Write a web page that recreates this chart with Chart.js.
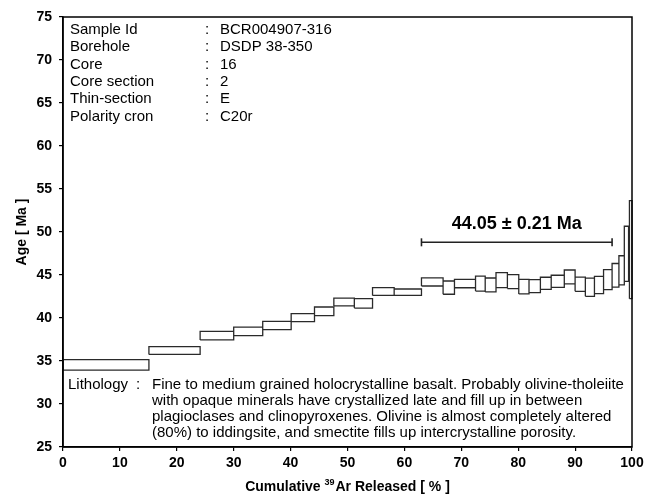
<!DOCTYPE html>
<html>
<head>
<meta charset="utf-8">
<script src="https://cdn.jsdelivr.net/npm/chart.js@4.4.1/dist/chart.umd.min.js"></script>
<style>
  html, body { margin: 0; padding: 0; background: #fff; }
  #wrap { width: 655px; height: 496px; }
</style>
</head>
<body>
<div id="wrap"><canvas id="ageSpectrum"></canvas></div>
<script>
// step edges, cumulative 39Ar released (%)
const cumulative = [0, 15.1, 24.1, 30.0, 35.1, 40.1, 44.2, 47.6, 51.2, 54.4, 58.2,
  63.0, 66.8, 68.8, 72.5, 74.2, 76.1, 78.1, 80.1, 81.9, 83.9, 85.8, 88.1, 90.0,
  91.8, 93.4, 95.0, 96.5, 97.7, 98.65, 99.4, 99.55, 100]
// apparent age of each step (Ma) and its error (Ma)
const stepAge = [34.55, 36.22, 37.95, 38.45, 39.13, 40.05, 40.78, 41.85, 41.7, 43.08,
  43.0, 44.19, 43.53, 44.0, 44.0, 43.84, 44.4, 44.23, 43.65, 43.71, 44.04, 44.27,
  44.77, 43.93, 43.58, 43.84, 44.46, 44.97, 45.55, 47.47, 47.42, 47.95]
const stepErr = [0.62, 0.45, 0.5, 0.5, 0.48, 0.46, 0.5, 0.45, 0.55, 0.45,
  0.37, 0.47, 0.77, 0.48, 0.87, 0.81, 0.87, 0.81, 0.85, 0.76, 0.7, 0.7,
  0.81, 0.83, 1.06, 1.0, 1.16, 1.37, 1.69, 3.2, 1.42, 5.7]

const plateauRange = [63.0, 96.5]
const plateauBarAge = 48.8
const plateauLabel = '44.05 ± 0.21 Ma'

const xTicks = [0, 10, 20, 30, 40, 50, 60, 70, 80, 90, 100]
const yTicks = [25, 30, 35, 40, 45, 50, 55, 60, 65, 70, 75]

const infoKeys = ['Sample Id', 'Borehole', 'Core', 'Core section', 'Thin-section', 'Polarity cron']
const infoValues = ['BCR004907-316', 'DSDP 38-350', '16', '2', 'E', 'C20r']
const lithologyLines = [
  'Fine to medium grained holocrystalline basalt. Probably olivine-tholeiite',
  'with opaque minerals have crystallized late and fill up in between',
  'plagioclases and clinopyroxenes. Olivine is almost completely altered',
  '(80%) to iddingsite, and smectite fills up intercrystalline porosity.'
]

const FONT = '"Liberation Sans", Arial, sans-serif'

// each step as a closed rectangle, null point breaks the line between steps
const boxPoints = []
for (let i = 0; i < stepAge.length; i++) {
  const x0 = cumulative[i], x1 = cumulative[i + 1]
  const lo = stepAge[i] - stepErr[i], hi = stepAge[i] + stepErr[i]
  boxPoints.push({x: x0, y: lo}, {x: x0, y: hi}, {x: x1, y: hi}, {x: x1, y: lo}, {x: x0, y: lo})
  boxPoints.push({x: x1, y: null})
}

const textPlugin = {
  id: 'spectrumText',
  afterDraw(chart) {
    const ctx = chart.ctx
    const a = chart.chartArea
    const xs = chart.scales.x, ys = chart.scales.y
    ctx.save()

    // frame
    ctx.strokeStyle = '#000'
    ctx.lineWidth = 1.5
    ctx.strokeRect(a.left, a.top, a.right - a.left, a.bottom - a.top)

    ctx.fillStyle = '#000'
    ctx.textBaseline = 'middle'

    // sample block
    ctx.font = '15px ' + FONT
    ctx.textAlign = 'left'
    infoKeys.forEach((k, i) => {
      const y = 30 + i * 17.3
      ctx.fillText(k, 70, y)
      ctx.fillText(':', 205, y)
      ctx.fillText(infoValues[i], 220, y)
    })

    // lithology
    ctx.fillText('Lithology', 68, 385)
    ctx.fillText(':', 136, 385)
    lithologyLines.forEach((line, i) => ctx.fillText(line, 152, 385 + i * 16))

    // plateau age
    ctx.font = 'bold 18px ' + FONT
    ctx.textAlign = 'center'
    ctx.textBaseline = 'alphabetic'
    const midX = (xs.getPixelForValue(plateauRange[0]) + xs.getPixelForValue(plateauRange[1])) / 2
    ctx.fillText(plateauLabel, midX, ys.getPixelForValue(plateauBarAge) - 13)

    // x title with superscript mass number
    ctx.textBaseline = 'middle'
    ctx.textAlign = 'left'
    const t1 = 'Cumulative ', t2 = '39', t3 = 'Ar Released [ % ]'
    ctx.font = 'bold 14px ' + FONT
    const w1 = ctx.measureText(t1).width, w3 = ctx.measureText(t3).width
    ctx.font = 'bold 9px ' + FONT
    const w2 = ctx.measureText(t2).width + 1
    let x = (a.left + a.right) / 2 - (w1 + w2 + w3) / 2
    const ty = 487
    ctx.font = 'bold 14px ' + FONT
    ctx.fillText(t1, x, ty)
    ctx.font = 'bold 9px ' + FONT
    ctx.fillText(t2, x + w1, ty - 4)
    ctx.font = 'bold 14px ' + FONT
    ctx.fillText(t3, x + w1 + w2, ty)

    // y title
    ctx.translate(22, (a.top + a.bottom) / 2)
    ctx.rotate(-Math.PI / 2)
    ctx.textAlign = 'center'
    ctx.fillText('Age [ Ma ]', 0, 0)
    ctx.restore()
  }
}

new Chart(document.getElementById('ageSpectrum'), {
  type: 'scatter',
  data: {
    datasets: [{
      data: boxPoints,
      showLine: true,
      spanGaps: false,
      borderColor: '#2a2a2a',
      borderWidth: 1.3,
      pointRadius: 0,
      pointHoverRadius: 0,
      tension: 0,
      clip: 1
    }, {
      data: [{x: plateauRange[0], y: plateauBarAge}, {x: plateauRange[1], y: plateauBarAge}],
      showLine: true,
      borderColor: '#222',
      borderWidth: 1.6,
      pointStyle: 'line',
      rotation: 90,
      pointRadius: 4,
      pointBorderColor: '#222',
      pointBorderWidth: 1.6
    }]
  },
  options: {
    responsive: true,
    maintainAspectRatio: false,
    animation: false,
    events: [],
    layout: { padding: { top: 17, right: 23, left: 0, bottom: 0 } },
    plugins: { legend: { display: false }, tooltip: { enabled: false } },
    scales: {
      x: {
        type: 'linear',
        min: 0, max: 100,
        afterBuildTicks: s => { s.ticks = xTicks.map(v => ({value: v})) },
        afterFit: s => { s.height = 49 },
        grid: { drawOnChartArea: false, drawTicks: true, tickLength: 4, color: '#000', lineWidth: 1.2 },
        border: { display: true, color: '#000', width: 1.5 },
        ticks: { color: '#000', padding: 4, maxRotation: 0, font: { family: FONT, size: 14, weight: 'bold' } }
      },
      y: {
        type: 'linear',
        min: 25, max: 75,
        afterBuildTicks: s => { s.ticks = yTicks.map(v => ({value: v})) },
        afterFit: s => { s.width = 63 },
        grid: { drawOnChartArea: false, drawTicks: true, tickLength: 4, color: '#000', lineWidth: 1.2 },
        border: { display: true, color: '#000', width: 1.5 },
        ticks: { color: '#000', padding: 7, font: { family: FONT, size: 14, weight: 'bold' } }
      }
    }
  },
  plugins: [textPlugin]
})
</script>
</body>
</html>
